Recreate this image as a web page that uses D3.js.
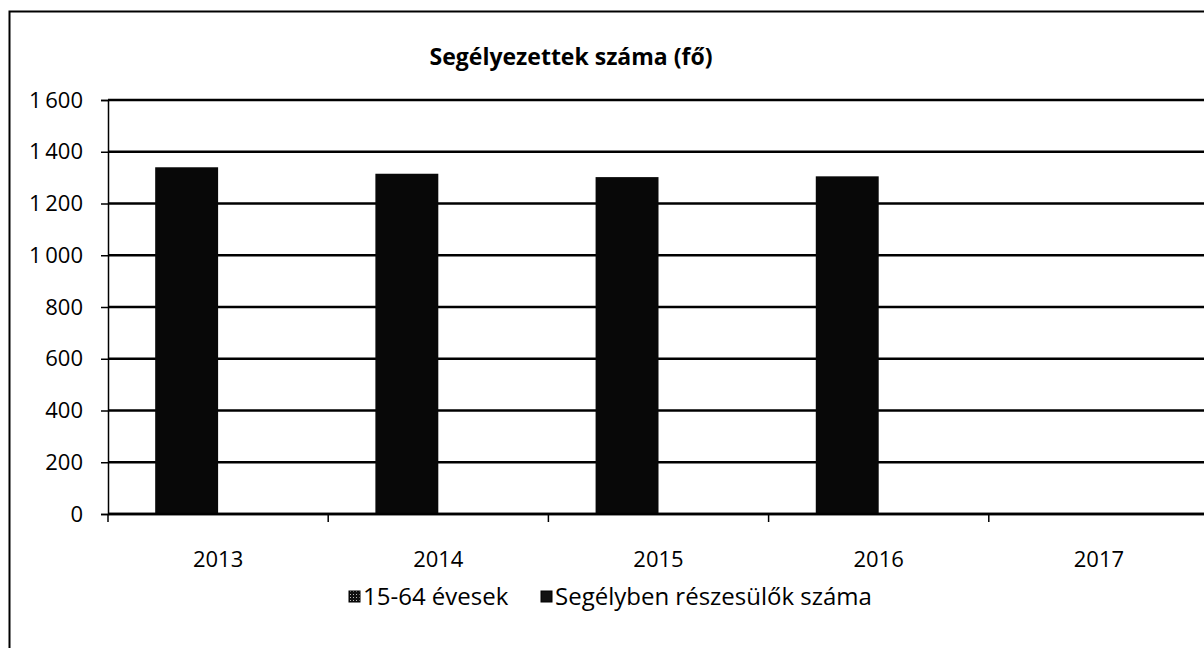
<!DOCTYPE html>
<html>
<head>
<meta charset="utf-8">
<script src="https://cdn.jsdelivr.net/npm/d3@7"></script>
<style>
  body { margin: 0; background: #fff; }
  svg { display: block; font-family: "Open Sans", "Noto Sans", sans-serif; }
</style>
</head>
<body>
<script>
const WIDTH = 1204;
const HEIGHT = 648;

// data
const years = ["2013", "2014", "2015", "2016", "2017"];
const seriesNames = ["15-64 évesek", "Segélyben részesülők száma"];
const evesek = [1340, 1315, 1302, 1305, null];
const segelyben = [0, 0, 0, 0, null];
const yTicks = [0, 200, 400, 600, 800, 1000, 1200, 1400, 1600];
const titleText = "Segélyezettek száma (fő)";

function main(){
    let svg = d3.select("body")
        .append("svg")
        .attr("width", WIDTH)
        .attr("height", HEIGHT);

    let defs = svg.append("defs");
    let pat = defs.append("pattern")
        .attr("id", "dots")
        .attr("width", 3).attr("height", 3)
        .attr("patternUnits", "userSpaceOnUse");
    pat.append("rect").attr("width", 3).attr("height", 3).attr("fill", "#111");
    pat.append("rect").attr("x", 1).attr("y", 1).attr("width", 1).attr("height", 1).attr("fill", "#bbb");

    // chart frame (runs off the right and bottom of the picture)
    svg.append("rect")
        .attr("x", 9.5).attr("y", 11.5)
        .attr("width", 1300).attr("height", 800)
        .attr("fill", "none")
        .attr("stroke", "#000")
        .attr("stroke-width", 2);

    let left = 108, right = 1209, top = 100, bottom = 514;

    let x0 = d3.scaleBand()
        .domain(years)
        .range([left, right])
        .padding(0);
    let bw = x0.bandwidth();
    let gap = bw * 0.75 / 3.5;
    let x1 = d3.scaleBand()
        .domain(seriesNames)
        .range([gap, bw - gap])
        .padding(0);
    let y = d3.scaleLinear()
        .domain([0, 1600])
        .range([bottom, top]);

    // gridlines
    svg.append("g")
        .selectAll("line")
        .data(yTicks)
        .enter()
        .append("line")
        .attr("x1", left).attr("x2", WIDTH + 10)
        .attr("y1", d => y(d)).attr("y2", d => y(d))
        .attr("stroke", "#000")
        .attr("stroke-width", 2.5);

    // y axis
    let fmt = d => d3.format(",")(d).replace(/,/g, "\u2009");
    let yAxis = svg.append("g")
        .attr("transform", `translate(${left},0)`)
        .call(d3.axisLeft(y).tickValues(yTicks).tickSize(7).tickPadding(18).tickFormat(fmt));
    yAxis.select(".domain").attr("stroke-width", 1.5);
    yAxis.selectAll(".tick line").attr("stroke-width", 1.5);
    yAxis.selectAll("text")
        .attr("font-size", 22)
        .attr("fill", "#000")
        .style("font-family", "'Open Sans', sans-serif");

    // bars
    let rows = years.map((yr, i) => ({year: yr, vals: [evesek[i], segelyben[i]]}));
    let groups = svg.append("g")
        .selectAll("g")
        .data(rows)
        .enter()
        .append("g")
        .attr("transform", d => `translate(${x0(d.year)},0)`);
    groups.selectAll("rect")
        .data(d => d.vals.map((v, j) => ({name: seriesNames[j], v: v})).filter(e => e.v))
        .enter()
        .append("rect")
        .attr("x", d => x1(d.name))
        .attr("width", x1.bandwidth())
        .attr("y", d => y(d.v))
        .attr("height", d => bottom - y(d.v))
        .attr("fill", d => d.name === seriesNames[0] ? "#080808" : "#000");

    // x axis
    let xAxis = svg.append("g")
        .attr("transform", `translate(0,${bottom})`);
    xAxis.append("line")
        .attr("x1", left).attr("x2", WIDTH + 10)
        .attr("stroke", "#000").attr("stroke-width", 2.5);
    let edges = years.map(yr => x0(yr)).concat([right]);
    xAxis.selectAll(".tk")
        .data(edges)
        .enter()
        .append("line")
        .attr("class", "tk")
        .attr("x1", d => d).attr("x2", d => d)
        .attr("y1", 0).attr("y2", 8)
        .attr("stroke", "#000").attr("stroke-width", 1.5);
    xAxis.selectAll("text")
        .data(years)
        .enter()
        .append("text")
        .attr("x", d => x0(d) + bw / 2)
        .attr("y", 53)
        .attr("text-anchor", "middle")
        .attr("font-size", 22)
        .text(d => d);

    // title
    svg.append("text")
        .attr("x", 571)
        .attr("y", 65)
        .attr("text-anchor", "middle")
        .attr("font-size", 23)
        .attr("font-weight", "bold")
        .text(titleText);

    // legend
    let legendX = [349, 541];
    let legend = svg.append("g")
        .selectAll("g")
        .data(seriesNames)
        .enter()
        .append("g")
        .attr("transform", (d, i) => `translate(${legendX[i]},605)`);
    legend.append("rect")
        .attr("x", 0).attr("y", -14)
        .attr("width", 11).attr("height", 11)
        .attr("fill", (d, i) => i === 0 ? "url(#dots)" : "#111")
        .attr("stroke", "#000");
    legend.append("text")
        .attr("x", 14)
        .attr("y", 0)
        .attr("font-size", 24)
        .text(d => d);
}

window.addEventListener("load", main);
</script>
</body>
</html>
